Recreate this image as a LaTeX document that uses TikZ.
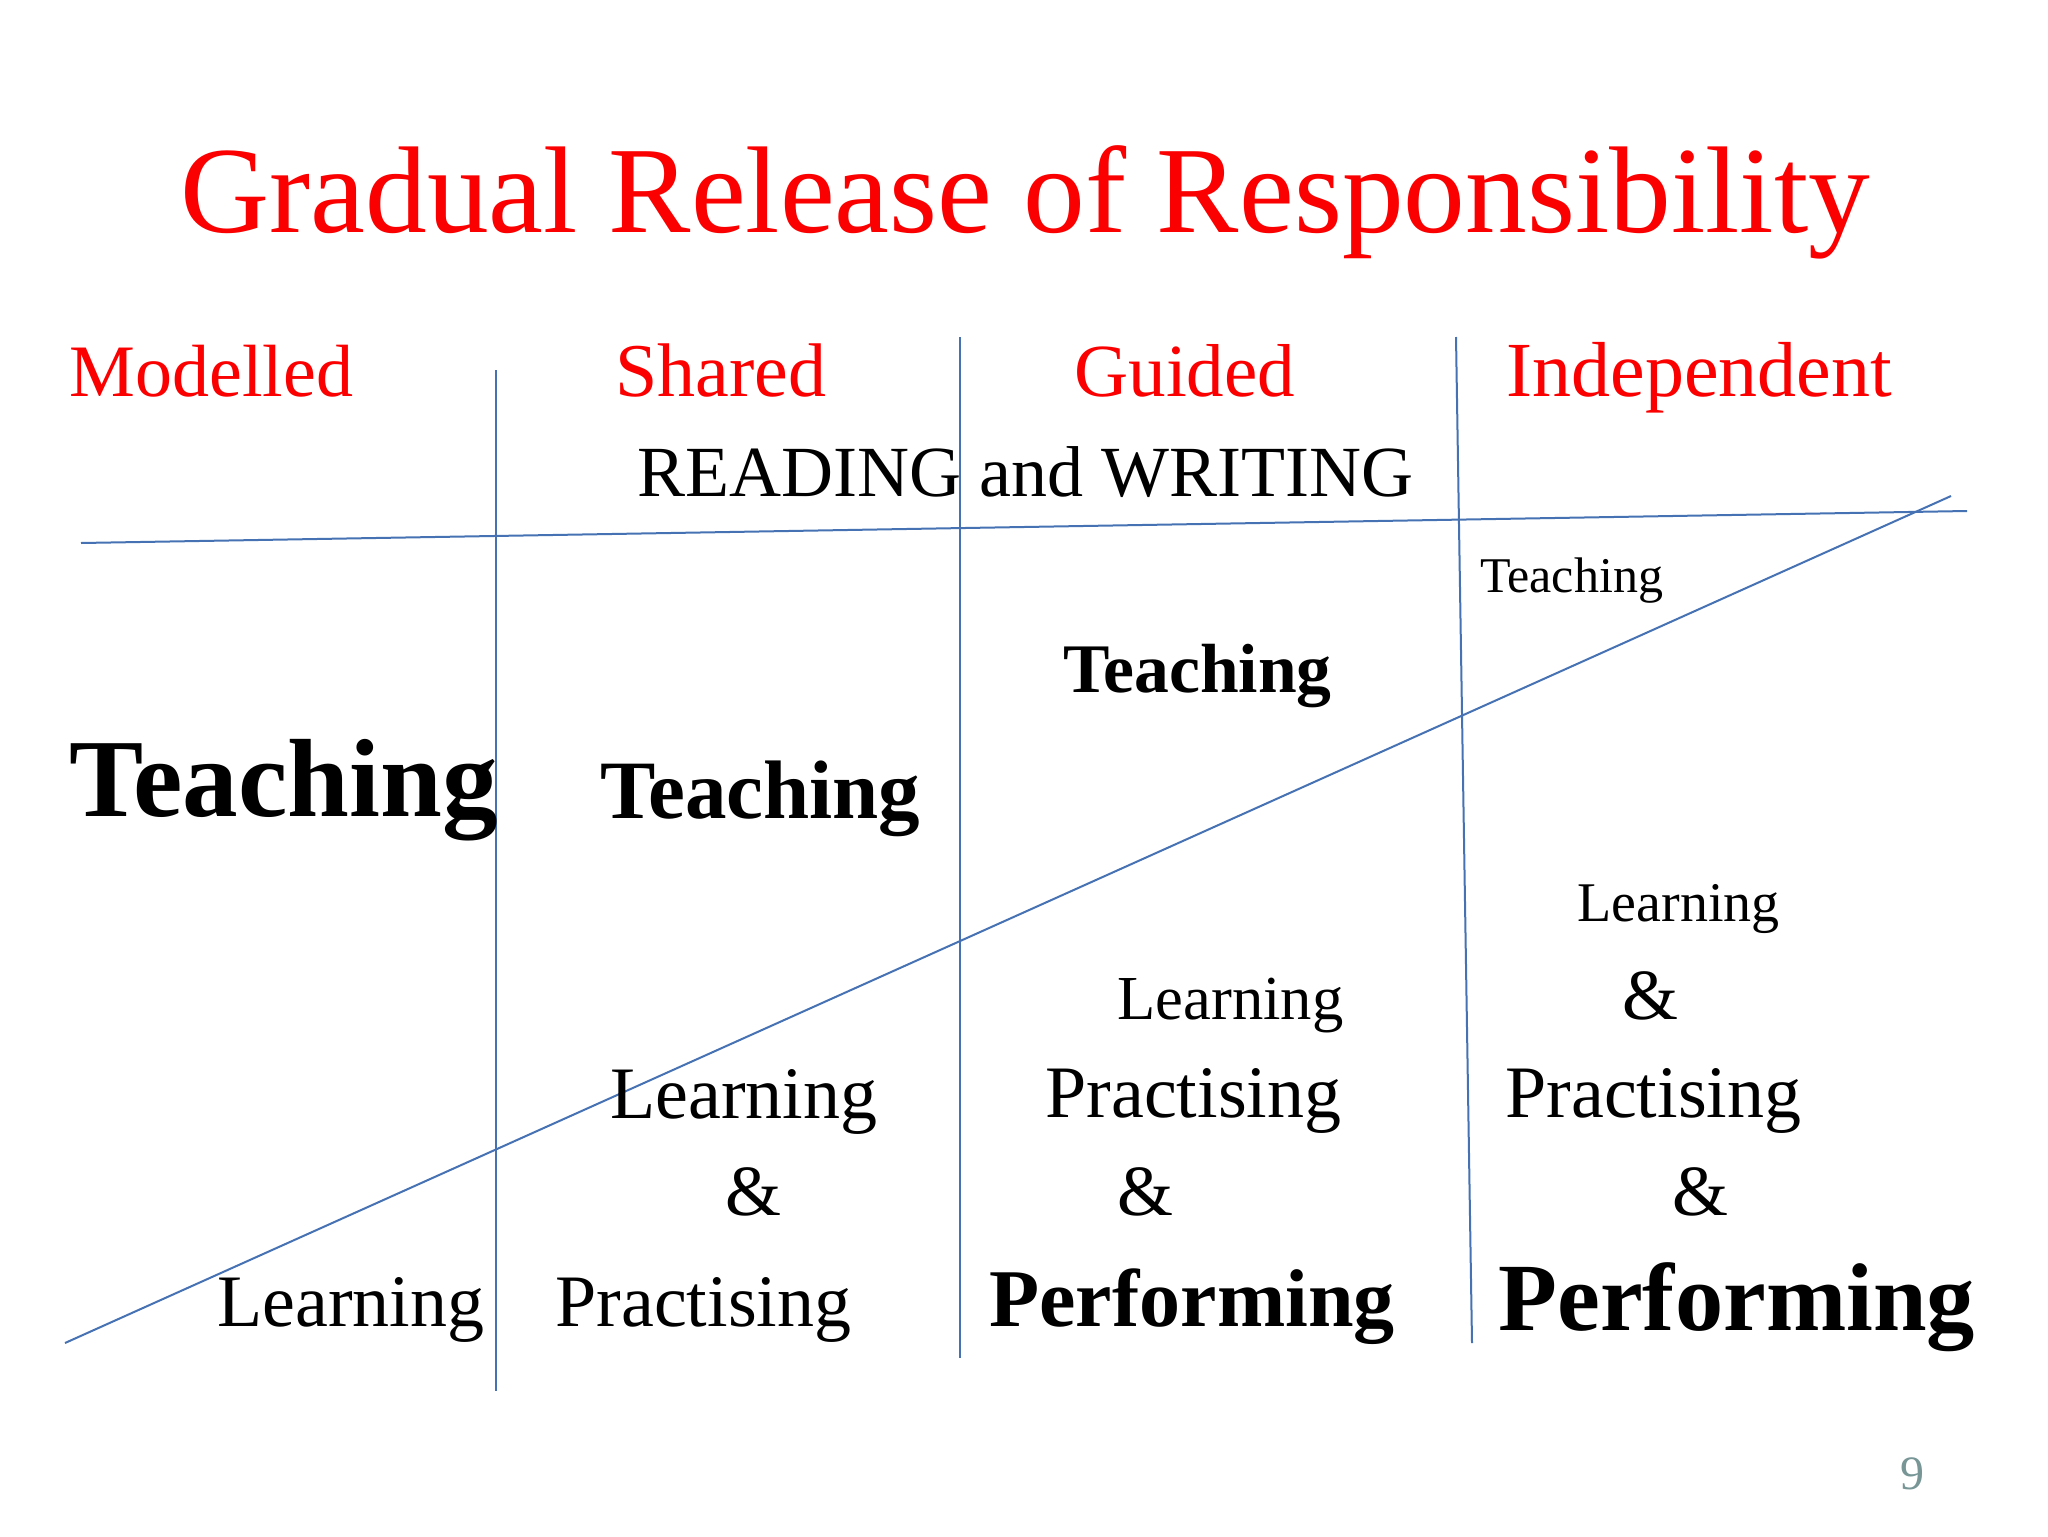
\documentclass[tikz,border=0pt]{standalone}
\usepackage{fontspec}
\setmainfont{Liberation Serif}
\usetikzlibrary{positioning}
\definecolor{slidered}{RGB}{250,0,0}
\definecolor{gridblue}{RGB}{70,114,180}
\definecolor{pagenum}{RGB}{120,150,150}
\tikzset{
  word/.style={inner sep=0pt, anchor=base west, font=\fontsize{#1}{#1}\selectfont},
  bword/.style={inner sep=0pt, anchor=base west, font=\fontsize{#1}{#1}\selectfont\bfseries},
  head/.style={word=#1, text=slidered},
  grid/.style={draw=gridblue, line width=1pt}
}

\begin{document}
\begin{tikzpicture}[x=0.5pt, y=-0.5pt]
      \useasboundingbox[fill=white] (0,0) rectangle (2048,1536);
      \node[head=61.7] (title) at (180,232) {Gradual Release of Responsibility};
      \node[head=37] (mod) at (69,396) {Modelled};
      \node[head=38] (shr) at (615,396) {Shared};
      \node[head=37.5] (gui) at (1074,396) {Guided};
      \node[head=39] (ind) at (1506,396) {Independent};
      \node[word=36] (rw) at (637,496) {READING and WRITING};
      \coordinate (hl) at (81,543);
      \coordinate (hr) at (1967,511);
      \coordinate (va) at (496,370);
      \coordinate (vb) at (496,1391);
      \coordinate (vc) at (960,337);
      \coordinate (vd) at (960,1358);
      \coordinate (ve) at (1456,337);
      \coordinate (vf) at (1472,1343);
      \coordinate (dl) at (65,1343);
      \coordinate (dr) at (1951,496);
      \draw[grid] (hl) -- (hr);
      \draw[grid] (va) -- (vb);
      \draw[grid] (vc) -- (vd);
      \draw[grid] (ve) -- (vf);
      \draw[grid] (dl) -- (dr);
      \node[bword=55.6] (modT) at (69,816) {Teaching};
      \node[word=37] (modL) at (217,1326) {Learning};
      \node[bword=41.5] (shrT) at (600,818) {Teaching};
      \node[word=37] (shrL) at (610,1118) {Learning};
      \node[word=36] (shrA) at (725,1215) {\&};
      \node[word=37] (shrP) at (555,1326) {Practising};
      \node[bword=34.8] (guiT) at (1063,692) {Teaching};
      \node[word=31.3] (guiL) at (1117,1019) {Learning};
      \node[word=37] (guiP) at (1045,1117) {Practising};
      \node[word=36] (guiA) at (1117,1215) {\&};
      \node[bword=41] (guiF) at (989,1326) {Performing};
      \node[word=25] (indT) at (1480,592) {Teaching};
      \node[word=28] (indL) at (1577,921) {Learning};
      \node[word=36] (indA) at (1622,1019) {\&};
      \node[word=37] (indP) at (1505,1117) {Practising};
      \node[word=36] (indB) at (1672,1215) {\&};
      \node[bword=48.2] (indF) at (1498,1330) {Performing};
      \node[word=24, text=pagenum] (pg) at (1900,1489) {9};
    \end{tikzpicture}
\end{document}
